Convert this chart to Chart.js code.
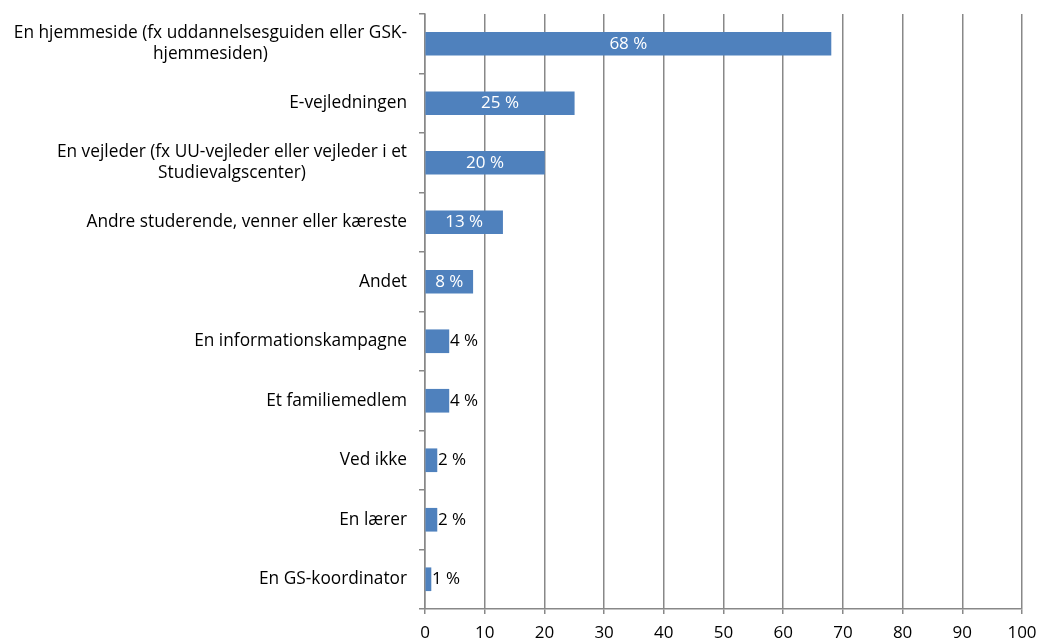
<!DOCTYPE html>
<html>
<head>
<meta charset="utf-8">
<script src="https://cdn.jsdelivr.net/npm/chart.js@4.4.0/dist/chart.umd.min.js"></script>
<style>
html,body{margin:0;padding:0;background:#fff;}
#wrap{width:1038px;height:641px;}
</style>
</head>
<body>
<div id="wrap"><canvas id="c" width="1038" height="641"></canvas></div>
<script>
const categories = [
  ["En hjemmeside (fx uddannelsesguiden eller GSK-", "hjemmesiden)"],
  ["E-vejledningen"],
  ["En vejleder (fx UU-vejleder eller vejleder i et", "Studievalgscenter)"],
  ["Andre studerende, venner eller kæreste"],
  ["Andet"],
  ["En informationskampagne"],
  ["Et familiemedlem"],
  ["Ved ikke"],
  ["En lærer"],
  ["En GS-koordinator"]
];
const values = [68, 25, 20, 13, 8, 4, 4, 2, 2, 1];
const xTicks = [0, 10, 20, 30, 40, 50, 60, 70, 80, 90, 100];

const FONT = "'Open Sans', sans-serif";
const GRID = '#888888';

const labelPlugin = {
  id: 'customLabels',
  afterDatasetsDraw(chart) {
    const ctx = chart.ctx;
    const ys = chart.scales.y;
    const meta = chart.getDatasetMeta(0);
    ctx.save();
    ctx.font = '17.3px ' + FONT;
    ctx.textBaseline = 'middle';
    categories.forEach((lines, i) => {
      const cy = ys.getPixelForValue(i);
      const lh = 21;
      let w = 0;
      lines.forEach(l => { w = Math.max(w, ctx.measureText(l).width); });
      const right = ys.right - 18;
      const cx = right - w / 2;
      ctx.fillStyle = '#000';
      ctx.textAlign = 'center';
      lines.forEach((l, k) => {
        const y = cy + (k - (lines.length - 1) / 2) * lh;
        ctx.fillText(l, cx, y);
      });
    });
    ctx.font = '17px ' + FONT;
    meta.data.forEach((bar, i) => {
      const v = values[i];
      const txt = v + ' %';
      if (v >= 8) {
        ctx.fillStyle = '#fff';
        ctx.textAlign = 'center';
        ctx.fillText(txt, (bar.base + bar.x) / 2, bar.y);
      } else {
        ctx.fillStyle = '#000';
        ctx.textAlign = 'left';
        ctx.fillText(txt, bar.x + 1, bar.y);
      }
    });
    ctx.restore();
  }
};

new Chart(document.getElementById('c'), {
  type: 'bar',
  data: {
    labels: categories,
    datasets: [{
      data: values,
      backgroundColor: '#4F81BD',
      borderWidth: 0,
      barThickness: 23
    }]
  },
  options: {
    indexAxis: 'y',
    responsive: false,
    animation: false,
    events: [],
    layout: { padding: { left: 0, right: 16, top: 14, bottom: 0 } },
    plugins: { legend: { display: false }, tooltip: { enabled: false } },
    scales: {
      x: {
        min: 0, max: 100,
        afterBuildTicks(s) { s.ticks = xTicks.map(v => ({ value: v })); },
        afterFit(s) { s.height = 32; s.paddingRight = 0; s.paddingLeft = 0; },
        grid: { color: GRID, lineWidth: 1.5, tickLength: 5, drawTicks: true },
        border: { color: GRID, width: 1.5 },
        ticks: { color: '#000', font: { family: FONT, size: 17 }, padding: 9, maxRotation: 0 }
      },
      y: {
        afterFit(s) { s.width = 425; },
        grid: { color: GRID, lineWidth: 1.5, drawOnChartArea: false, drawTicks: true, tickLength: 6, offset: true },
        border: { color: GRID, width: 1.5 },
        ticks: { display: true, callback: () => '' }
      }
    }
  },
  plugins: [labelPlugin]
});
</script>
</body>
</html>
